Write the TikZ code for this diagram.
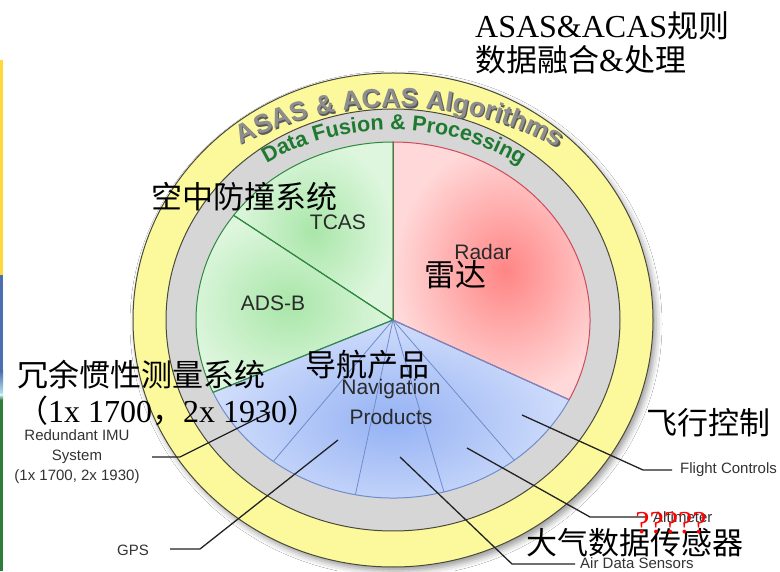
\documentclass[tikz,border=0pt]{standalone}
\usepackage{fontspec}
\setmainfont{Liberation Sans}
\newfontfamily\sansfam{Liberation Sans}
\newfontfamily\seriffam{Liberation Serif}
\newfontfamily\cjkfam{Noto Sans CJK SC}
\usetikzlibrary{shadows.blur}
\definecolor{ringyellow}{HTML}{FCF99C}
\definecolor{ringgray}{HTML}{D6D6D6}
\definecolor{ringedge}{HTML}{4A4A3A}
\definecolor{grnin}{HTML}{A9E6A9}
\definecolor{grnout}{HTML}{DDF6DD}
\definecolor{grnedge}{HTML}{2F8A40}
\definecolor{redin}{HTML}{FF8585}
\definecolor{redout}{HTML}{FFD9D9}
\definecolor{rededge}{HTML}{D04A5A}
\definecolor{bluin}{HTML}{95B2F4}
\definecolor{bluout}{HTML}{D0DDFB}
\definecolor{bluedge}{HTML}{6F8CCB}
\definecolor{ringtext}{HTML}{8E8E8E}
\definecolor{ringshadow}{HTML}{5A5A5A}
\definecolor{fusiongreen}{HTML}{1E7A2E}
\definecolor{labgray}{HTML}{2A2A2A}
\definecolor{smgray}{HTML}{333333}
\definecolor{ptr}{HTML}{222222}
\definecolor{stripyellow}{HTML}{FFD83A}
\definecolor{stripblue}{HTML}{4A6FB0}
\definecolor{stripcyan}{HTML}{BFE8F0}
\definecolor{stripgreen}{HTML}{2E7D3A}
\newcommand{\lattxt}[1]{{\seriffam #1}}
% #1 cx, #2 cy, #3 rx, #4 ry, #5 centre angle, #6 font size, #7 colour, #8 macro holding char/width(em) list
\newcommand\ringtext[8]{%
  \gdef\rtw{0}%
  \foreach \ch/\w in #8{%
    \pgfmathsetmacro\rtmp{\rtw+\w*#6}%
    \xdef\rtw{\rtmp}%
  }%
  \pgfmathsetmacro\rsp{100*sqrt((#3/100*sin(#5))^2+(#4/100*cos(#5))^2)}%
  \pgfmathsetmacro\rtmp{#5+(\rtw/2)/\rsp*180/pi}%
  \xdef\rt{\rtmp}%
  \foreach \ch/\w in #8{%
    \pgfmathsetmacro\rcw{\w*#6}%
    \pgfmathsetmacro\rsp{100*sqrt((#3/100*sin(\rt))^2+(#4/100*cos(\rt))^2)}%
    \pgfmathsetmacro\rtm{\rt-(\rcw/2)/\rsp*180/pi}%
    \pgfmathsetmacro\rrot{atan2(-#4*cos(\rtm),#3*sin(\rtm))}%
    \pgfmathsetmacro\rpx{#1+#3*cos(\rtm)}%
    \pgfmathsetmacro\rpy{#2+#4*sin(\rtm)}%
    \node[anchor=base, inner sep=0pt, rotate=\rrot, font=\fontsize{#6}{#6}\selectfont\sansfam\bfseries, text=#7] at (\rpx,\rpy) {\ch};
    \pgfmathsetmacro\rtmp{\rt-\rcw/\rsp*180/pi}%
    \xdef\rt{\rtmp}%
  }%
}
\def\asastext{A/0.722,S/0.667,A/0.722,S/0.667,\ /0.278,\&/0.722,\ /0.278,A/0.722,C/0.722,A/0.722,S/0.667,\ /0.278,A/0.722,l/0.278,g/0.611,o/0.611,r/0.389,i/0.278,t/0.333,h/0.611,m/0.889,s/0.556}
\def\fusiontext{D/0.722,a/0.556,t/0.333,a/0.556,\ /0.278,F/0.611,u/0.611,s/0.556,i/0.278,o/0.611,n/0.611,\ /0.278,\&/0.722,\ /0.278,P/0.667,r/0.389,o/0.611,c/0.556,e/0.556,s/0.556,s/0.556,i/0.278,n/0.611,g/0.611}
\tikzset{
  cjklab/.style={inner sep=0pt, font=\fontsize{31}{31}\selectfont\cjkfam, text=black},
  inlab/.style={inner sep=0pt, font=\fontsize{21}{21}\selectfont\sansfam, text=labgray},
  smlab/.style={inner sep=0pt, font=\fontsize{15}{20}\selectfont\sansfam, text=smgray, align=center},
  pointer/.style={draw=ptr, line width=1.3pt},
  spokeb/.style={draw=bluedge, line width=0.8pt},
  spokeg/.style={draw=grnedge, line width=1pt},
}
\begin{document}
\begin{tikzpicture}[x=1pt,y=1pt]
\useasboundingbox (0,0) rectangle (780,571);
\fill[white] (0,0) rectangle (780,571);
% left strip of the slide background
\fill[stripyellow] (0,511) rectangle (3,296);
\fill[stripblue] (0,296) rectangle (3,200);
\shade[top color=stripblue, bottom color=stripcyan] (0,200) rectangle (3,176);
\shade[top color=stripcyan, bottom color=stripgreen] (0,176) rectangle (3,171);
\fill[stripgreen] (0,171) rectangle (3,0);

\coordinate (P) at (393,251);
% rings
\path[fill=ringyellow, draw=ringedge, line width=1pt,
  blur shadow={shadow xshift=3pt, shadow yshift=-4pt, shadow blur radius=6pt}]
  (P) ellipse [x radius=260pt, y radius=247pt];
\path[fill=ringgray, draw=ringedge, line width=1pt]
  (P) ellipse [x radius=227pt, y radius=211pt];

% sectors
\path[shade, inner color=grnin, outer color=grnout, draw=grnedge, line width=1pt]
  (P) -- ++(90:197pt and 178pt) arc[start angle=90, end angle=144, x radius=197pt, y radius=178pt] -- cycle;
\path[shade, inner color=grnin, outer color=grnout, draw=grnedge, line width=1pt]
  (P) -- ++(144:197pt and 178pt) arc[start angle=144, end angle=204, x radius=197pt, y radius=178pt] -- cycle;
\path[shade, inner color=bluin, outer color=bluout, draw=bluedge, line width=1pt]
  (P) -- ++(204:197pt and 178pt) arc[start angle=204, end angle=333.4, x radius=197pt, y radius=178pt] -- cycle;
\path[shade, inner color=redin, outer color=redout, draw=rededge, line width=1pt]
  (P) -- ++(-26.6:197pt and 178pt) arc[start angle=-26.6, end angle=90, x radius=197pt, y radius=178pt] -- cycle;
% spokes
\foreach \a in {232.6,259,285,308}{
  \draw[spokeb] (P) -- ++(\a:197pt and 178pt);
}
\draw[bluedge, line width=1pt] (P) -- ++(-26.6:197pt and 178pt);
\draw[spokeg] (P) -- ++(90:197pt and 178pt);
\draw[spokeg] (P) -- ++(144:197pt and 178pt);
\draw[spokeg] (P) -- ++(204:197pt and 178pt);

% ring texts
\ringtext{397.2}{249.5}{275}{213}{90}{26.5}{ringshadow}{\asastext}
\ringtext{396}{251}{275}{213}{90}{26.5}{ringtext}{\asastext}
\ringtext{392}{251}{221}{190}{90}{21.5}{fusiongreen}{\fusiontext}

% inner labels
\node[inlab] (tcas) at (338,349) {TCAS};
\node[inlab] (adsb) at (273,268) {ADS-B};
\node[inlab] (radar) at (483,319) {Radar};
\node[inlab] (navi) at (391,182) {Navigation};
\node[inlab] (prod) at (391,154) {Products};

% outer labels
\node[smlab] (imu) at (77,114) {Redundant IMU\\System\\(1x 1700, 2x 1930)};
\node[smlab] (gps) at (133,21) {GPS};
\node[smlab, anchor=west] (fc) at (680,101) {Flight Controls};
\node[smlab, anchor=west] (alt) at (653,54) {Altimeter};
\node[smlab, anchor=west] (air) at (580,8) {Air Data Sensors};

% pointers
\coordinate (imuT) at (270,159); \coordinate (imuK) at (180,114); \coordinate (imuE) at (152,114);
\coordinate (gpsT) at (338,131); \coordinate (gpsK) at (200,22); \coordinate (gpsE) at (170,22);
\coordinate (airT) at (400,114); \coordinate (airK) at (512,7); \coordinate (airE) at (575,7);
\coordinate (altT) at (467,123); \coordinate (altK) at (590,54); \coordinate (altE) at (647,54);
\coordinate (fcT) at (522,156); \coordinate (fcK) at (643,101); \coordinate (fcE) at (672,101);
\draw[pointer] (imuT) -- (imuK) -- (imuE);
\draw[pointer] (gpsT) -- (gpsK) -- (gpsE);
\draw[pointer] (airT) -- (airK) -- (airE);
\draw[pointer] (altT) -- (altK) -- (altE);
\draw[pointer] (fcT) -- (fcK) -- (fcE);

% Chinese overlay labels
\node[cjklab, anchor=west] (zh1) at (475,545) {\lattxt{\fontsize{32}{32}\selectfont ASAS\&ACAS}规则};
\node[cjklab, anchor=west] (zh2) at (475,511) {数据融合\lattxt{\fontsize{32}{32}\selectfont\&}处理};
\node[cjklab, anchor=west] (zhtcas) at (151,374) {空中防撞系统};
\node[cjklab] (zhradar) at (455,296) {雷达};
\node[cjklab] (zhnav) at (367,206) {导航产品};
\node[cjklab, anchor=west] (zhimu) at (17,196) {冗余惯性测量系统};
\node[cjklab, anchor=west] (zhnum) at (17,160) {（\lattxt{\fontsize{32}{32}\selectfont 1x 1700}，\lattxt{\fontsize{32}{32}\selectfont 2x 1930}）};
\node[cjklab, anchor=west] (zhfc) at (646,148) {飞行控制};
\node[cjklab, anchor=west] (zhair) at (526,28) {大气数据传感器};
\node[inner sep=0pt, font=\fontsize{32}{32}\selectfont\seriffam, text=red] (qm) at (671,48) {?????};
\end{tikzpicture}
\end{document}
